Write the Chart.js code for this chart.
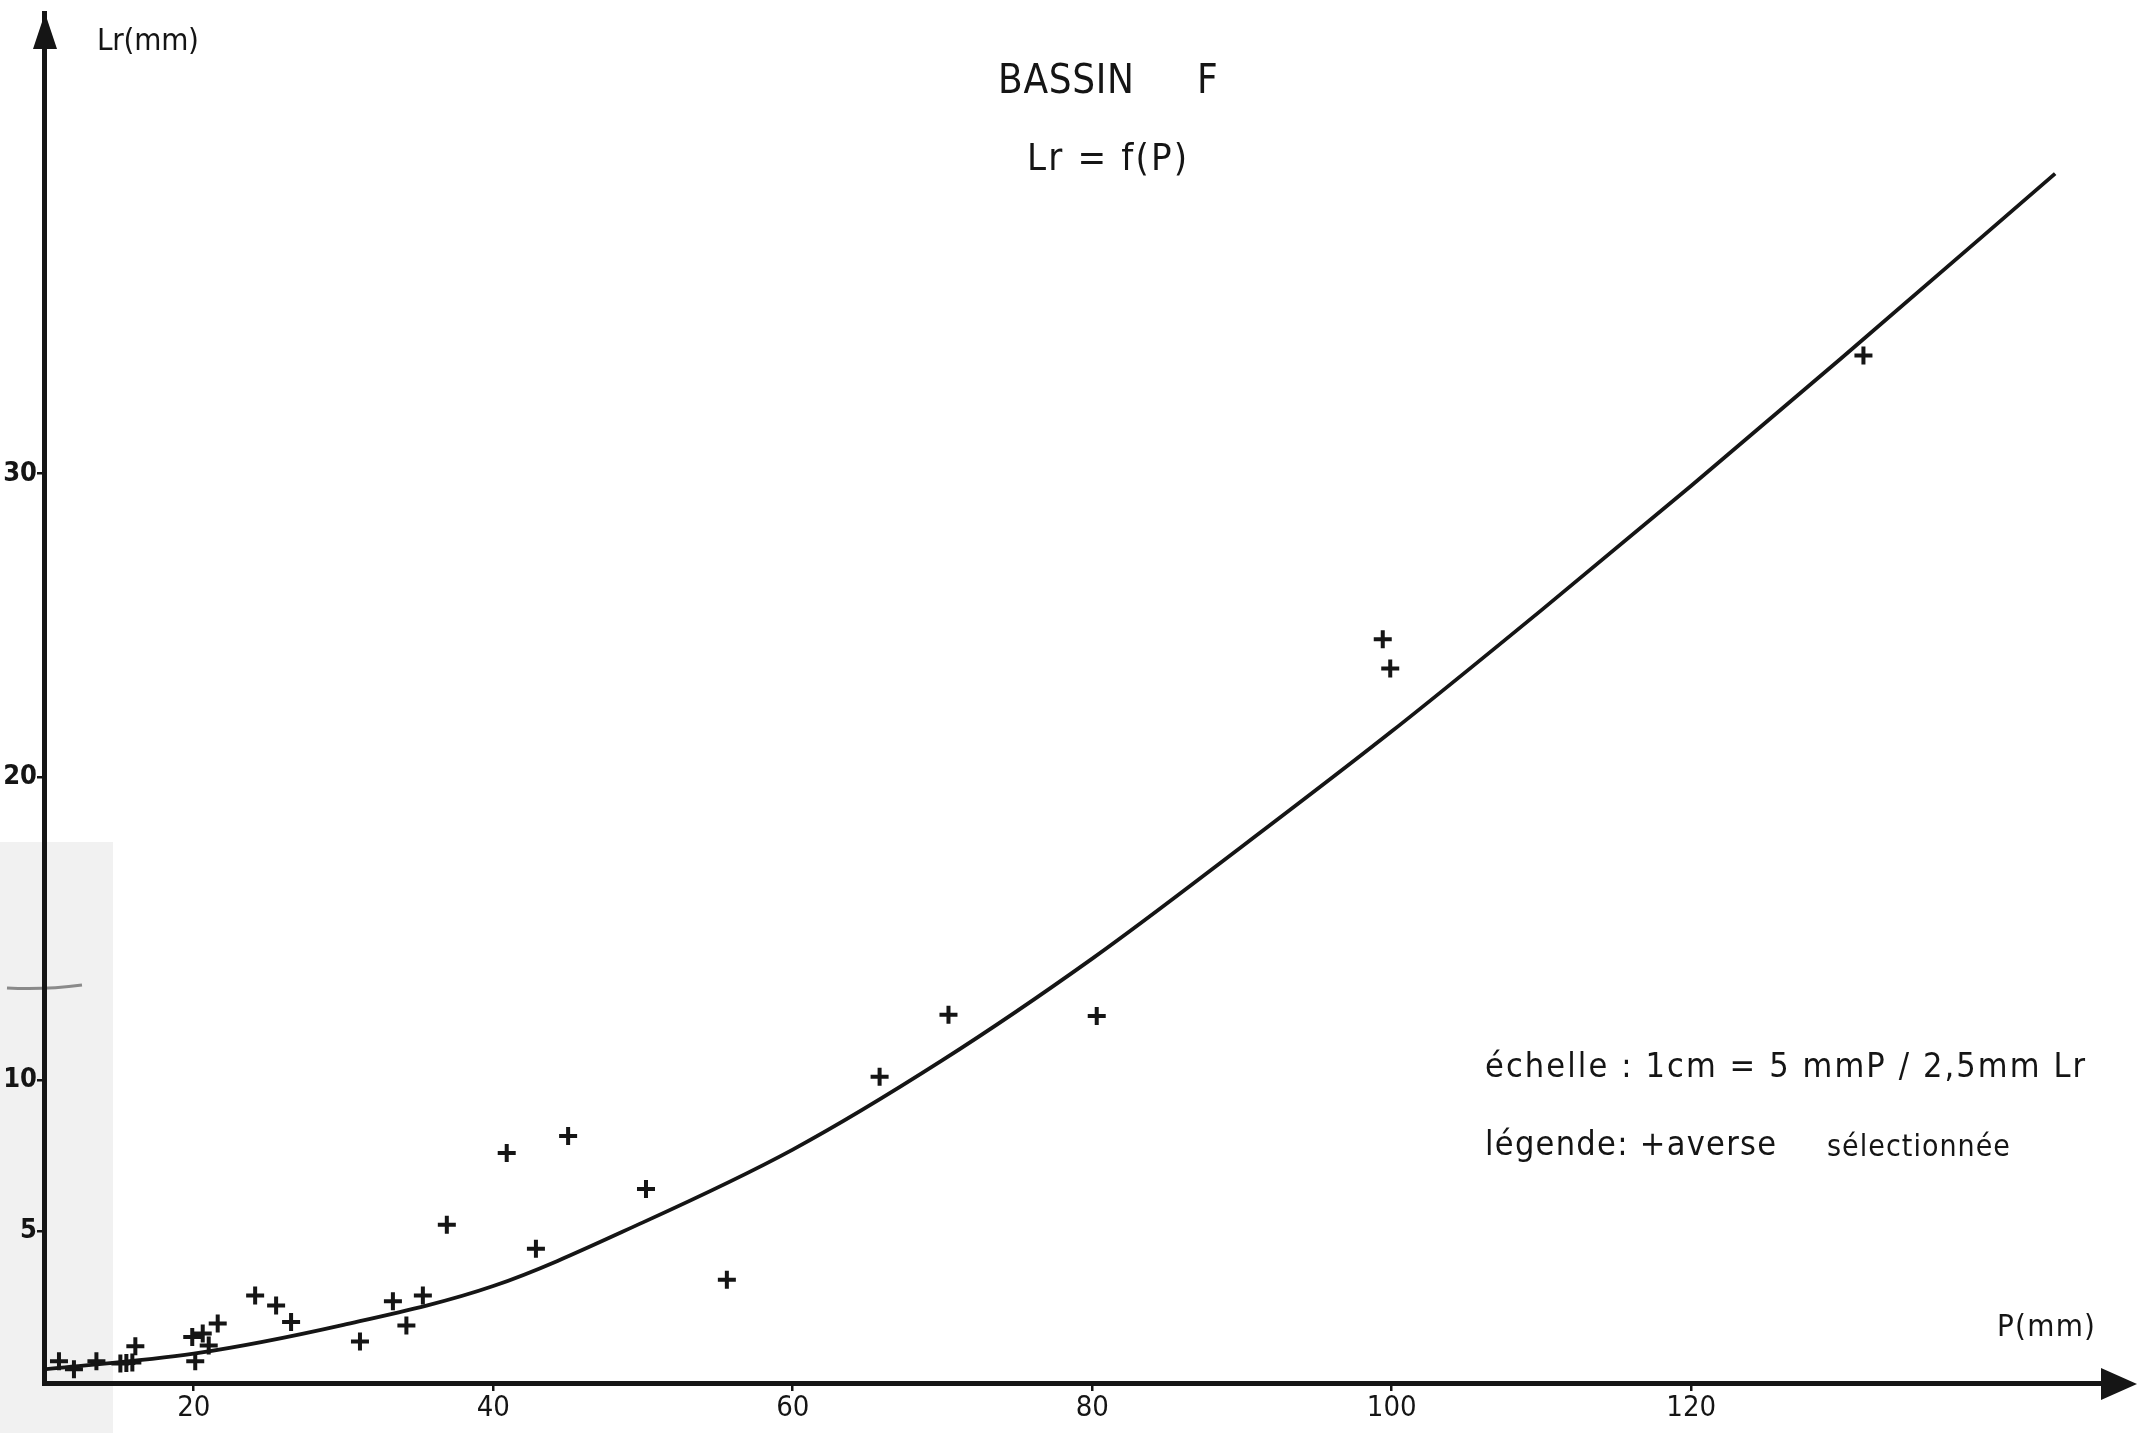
<!DOCTYPE html>
<html>
<head>
<meta charset="utf-8">
<title>Bassin F - Lr = f(P)</title>
<script src="https://cdn.jsdelivr.net/npm/chart.js@4.4.1/dist/chart.umd.min.js"></script>
<style>
  html, body { margin: 0; padding: 0; background: #ffffff; overflow: hidden; }
  #wrap { width: 2140px; height: 1433px; position: relative; }
  canvas { display: block; }
</style>
</head>
<body>
<div id="wrap"><canvas id="c" width="2140" height="1433"></canvas></div>
<script>
// Selected storms: rainfall P (mm) and runoff depth Lr (mm)
const stormP  = [11.0, 12.0, 13.5, 15.1, 15.5, 15.9, 16.1, 19.9, 20.1, 20.6, 21.0, 21.6,
                 24.1, 25.5, 26.5, 31.1, 33.3, 34.2, 35.3, 36.9, 40.9, 42.85, 45.0, 50.2,
                 55.6, 65.8, 70.4, 80.3, 99.4, 99.9, 131.5];
const stormLr = [0.72, 0.45, 0.72, 0.64, 0.66, 0.68, 1.21, 1.52, 0.72, 1.63, 1.24, 1.96,
                 2.89, 2.56, 2.01, 1.37, 2.70, 1.90, 2.89, 5.22, 7.59, 4.43, 8.15, 6.40,
                 3.41, 10.1, 12.15, 12.11, 24.54, 23.57, 33.9];

// Fitted relation Lr = f(P), hand-drawn curve
const curveP  = [10, 20, 30, 40, 50, 60, 70, 80, 90, 100, 110, 120, 130, 144.3];
const curveLr = [0.45, 0.97, 1.92, 3.2, 5.3, 7.7, 10.65, 14.0, 17.7, 21.5, 25.5, 29.6, 33.8, 39.9];

// Axis graduations
const xTickValues = [20, 40, 60, 80, 100, 120];
const yTickValues = [5, 10, 20, 30];

const stormPoints = stormP.map((p, i) => ({ x: p, y: stormLr[i] }));
const curvePoints = curveP.map((p, i) => ({ x: p, y: curveLr[i] }));

const INK = '#151515';
const LETTER = '"DejaVu Sans Condensed", "Liberation Sans Narrow", "DejaVu Sans", sans-serif';

// Draw a string stretched with letter spacing so it spans the given width
function drawSpaced(ctx, text, x, y, width, font) {
  ctx.font = font;
  ctx.letterSpacing = '0px';
  const w = ctx.measureText(text).width;
  const n = Array.from(text).length;
  const sp = n > 1 ? (width - w) / (n - 1) : 0;
  ctx.letterSpacing = sp.toFixed(2) + 'px';
  ctx.textAlign = 'left';
  ctx.textBaseline = 'middle';
  ctx.fillText(text, x, y);
  ctx.letterSpacing = '0px';
}

const drawing = {
  id: 'drawing',
  beforeDraw(chart) {
    const ctx = chart.ctx;
    ctx.save();
    ctx.fillStyle = '#ffffff';
    ctx.fillRect(0, 0, chart.width, chart.height);
    // greyish pasted strip at the lower left of the sheet
    ctx.fillStyle = '#f1f1f1';
    ctx.fillRect(0, 842, 113, 591);
    ctx.strokeStyle = '#8a8a8a';
    ctx.lineWidth = 3;
    ctx.beginPath();
    ctx.moveTo(7, 988);
    ctx.quadraticCurveTo(45, 990, 82, 985);
    ctx.stroke();
    ctx.restore();
  },
  afterDraw(chart) {
    const ctx = chart.ctx;
    const area = chart.chartArea;
    const xs = chart.scales.x, ys = chart.scales.y;
    ctx.save();
    ctx.fillStyle = INK;
    ctx.strokeStyle = INK;

    // arrow heads at the ends of both axes
    const ax = xs.left;
    ctx.beginPath();
    ctx.moveTo(ax + 1, area.top);
    ctx.lineTo(ax - 11, area.top + 36);
    ctx.lineTo(ax + 13, area.top + 36);
    ctx.closePath();
    ctx.fill();
    const ay = ys.bottom;
    const tip = chart.width - 3;
    ctx.lineWidth = 5;
    ctx.beginPath();
    ctx.moveTo(area.right - 2, ay);
    ctx.lineTo(tip - 20, ay);
    ctx.stroke();
    ctx.beginPath();
    ctx.moveTo(tip, ay + 1);
    ctx.lineTo(tip - 36, ay - 15);
    ctx.lineTo(tip - 36, ay + 17);
    ctx.closePath();
    ctx.fill();

    // titles and annotations
    drawSpaced(ctx, 'Lr(mm)', 97, 42, 102, '31px ' + LETTER);
    drawSpaced(ctx, 'BASSIN', 998, 83, 136, '40px ' + LETTER);
    drawSpaced(ctx, 'F', 1197, 83, 16, '40px ' + LETTER);
    drawSpaced(ctx, 'Lr = f(P)', 1027, 160, 160, '38px ' + LETTER);
    drawSpaced(ctx, 'échelle : 1cm = 5 mmP / 2,5mm Lr', 1485, 1068, 600, '34px ' + LETTER);
    drawSpaced(ctx, 'légende: +averse', 1485, 1146, 291, '34px ' + LETTER);
    drawSpaced(ctx, 'sélectionnée', 1827, 1148, 183, '30px ' + LETTER);
    drawSpaced(ctx, 'P(mm)', 1997, 1328, 98, '31px ' + LETTER);
    ctx.restore();
  }
};

new Chart(document.getElementById('c').getContext('2d'), {
  type: 'scatter',
  data: {
    datasets: [
      {
        type: 'line',
        label: 'Lr = f(P)',
        data: curvePoints,
        borderColor: INK,
        borderWidth: 3.8,
        pointRadius: 0,
        fill: false,
        cubicInterpolationMode: 'monotone',
        order: 2
      },
      {
        type: 'scatter',
        label: 'averse sélectionnée',
        data: stormPoints,
        pointStyle: 'cross',
        pointRadius: 9,
        borderWidth: 4,
        borderColor: INK,
        backgroundColor: INK,
        order: 1
      }
    ]
  },
  options: {
    responsive: false,
    animation: false,
    devicePixelRatio: 1,
    layout: { padding: { top: 13, right: 0, bottom: 0, left: 0 } },
    plugins: {
      legend: { display: false },
      tooltip: { enabled: false },
      title: { display: false }
    },
    scales: {
      x: {
        type: 'linear',
        min: 10,
        max: 149.1,
        afterBuildTicks: (s) => { s.ticks = xTickValues.map(v => ({ value: v })); },
        afterFit: (s) => { s.height = 50; s.paddingLeft = 0; s.paddingRight = 0; },
        grid: { drawOnChartArea: false, drawTicks: true, tickLength: 8, color: INK, lineWidth: 2.5 },
        border: { display: true, color: INK, width: 5 },
        ticks: {
          color: INK,
          font: { family: LETTER, size: 29 },
          padding: 0,
          autoSkip: false,
          maxRotation: 0,
          callback: (v) => String(v)
        }
      },
      y: {
        type: 'linear',
        min: 0,
        max: 45.2,
        afterBuildTicks: (s) => { s.ticks = yTickValues.map(v => ({ value: v })); },
        afterFit: (s) => { s.width = 44; s.paddingTop = 0; s.paddingBottom = 0; },
        grid: { drawOnChartArea: false, drawTicks: true, tickLength: 7, color: INK, lineWidth: 2.5 },
        border: { display: true, color: INK, width: 5 },
        ticks: {
          color: INK,
          font: { family: LETTER, size: 27, weight: 'bold' },
          padding: 0,
          autoSkip: false,
          callback: (v) => String(v)
        }
      }
    }
  },
  plugins: [drawing]
});
</script>
</body>
</html>
